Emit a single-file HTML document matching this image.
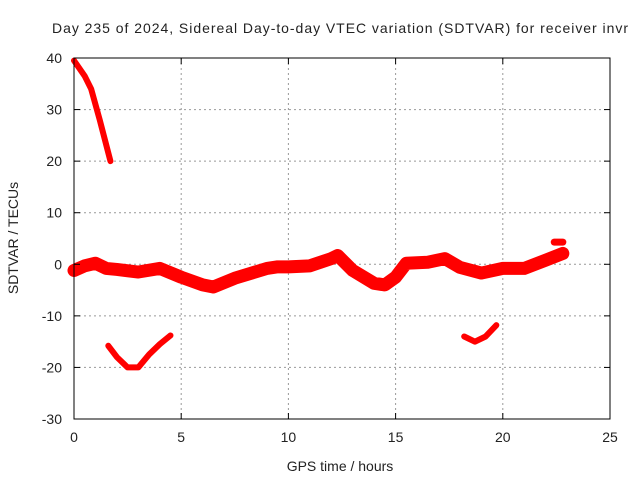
<!DOCTYPE html>
<html><head><meta charset="utf-8"><style>
body{margin:0;background:#fff;}
svg text{font-family:"Liberation Sans",sans-serif;font-size:14px;fill:#222;}
</style></head><body>
<svg id="chart" width="640" height="480" xmlns="http://www.w3.org/2000/svg">
<rect width="640" height="480" fill="#fff"/>
<g id="grid"></g><g id="series"></g><g id="axes"></g>
</svg>
<script>
const xTicks=[0,5,10,15,20,25];
const yTicks=[40,30,20,10,0,-10,-20,-30];
const mainHours=[0,0.5,1,1.5,2,3,4,5,6,6.5,7.5,9,9.5,10,11,12,12.3,13,14,14.5,15,15.5,16.5,17.3,18,19,20,21,22,22.8];
const mainValues=[-1.2,-0.3,0.2,-0.8,-1,-1.5,-0.8,-2.5,-4,-4.4,-2.7,-0.8,-0.5,-0.5,-0.3,1.1,1.7,-1.2,-3.7,-4,-2.5,0.2,0.4,1.1,-0.6,-1.7,-0.8,-0.8,0.8,2.1];
const topHours=[0,0.5,0.8,1.2,1.7];
const topValues=[39.5,36.5,34,28,20];
const dipHours=[1.6,2,2.5,3,3.5,4,4.5];
const dipValues=[-15.8,-18,-20,-20,-17.5,-15.5,-13.8];
const lateHours=[18.2,18.7,19.2,19.7];
const lateValues=[-14,-15,-14,-11.8];
const blobHours=[22.4,22.8];
const blobValues=[4.3,4.3];
const L=74,R=610,T=58,B=419;
const xs=h=>L+(h-0)/25*(R-L);
const ys=v=>T+(40-v)/70*(B-T);
const NS="http://www.w3.org/2000/svg";
function mk(tag,attrs,parent){const e=document.createElementNS(NS,tag);for(const k in attrs)e.setAttribute(k,attrs[k]);parent.appendChild(e);return e;}
const grid=document.getElementById('grid'),axes=document.getElementById('axes'),ser=document.getElementById('series');
xTicks.forEach(t=>{
 if(t>0&&t<25){const g=mk('line',{x1:xs(t),x2:xs(t),y1:T,y2:B,stroke:'#999','stroke-dasharray':'2,3'},grid);
 
 }
 const tx=mk('text',{x:xs(t),y:B+23,'text-anchor':'middle'},axes);tx.textContent=t;
 
 
 mk('line',{x1:xs(t),x2:xs(t),y1:B,y2:B-6,stroke:'#000'},axes);
 mk('line',{x1:xs(t),x2:xs(t),y1:T,y2:T+6,stroke:'#000'},axes);
});
yTicks.forEach(t=>{
 if(t<40&&t>-30){const g=mk('line',{x1:L,x2:R,y1:ys(t),y2:ys(t),stroke:'#999','stroke-dasharray':'2,3'},grid);
 
 }
 const tx=mk('text',{x:L-12,y:ys(t)+5,'text-anchor':'end'},axes);tx.textContent=t;
 
 
 mk('line',{x1:L,x2:L+6,y1:ys(t),y2:ys(t),stroke:'#000'},axes);
 mk('line',{x1:R,x2:R-6,y1:ys(t),y2:ys(t),stroke:'#000'},axes);
});
const fr=mk('rect',{x:L,y:T,width:R-L,height:B-T,fill:'none',stroke:'#000'},axes);


function series(hs,vs,w,name){
 const p=mk('polyline',{points:hs.map((h,i)=>xs(h)+','+ys(vs[i])).join(' '),fill:'none',stroke:'#f00','stroke-width':w,'stroke-linejoin':'round','stroke-linecap':'round'},ser);
 
 
}
series(mainHours,mainValues,13,'main-band-series');
series(topHours,topValues,6,'early-high-series');
series(dipHours,dipValues,6,'early-dip-series');
series(lateHours,lateValues,6,'late-dip-series');
series(blobHours,blobValues,7,'late-blob-series');
const ti=mk('text',{x:340,y:33,'text-anchor':'middle','font-size':'16px',textLength:576},axes);ti.textContent='Day 235 of 2024, Sidereal Day-to-day VTEC variation (SDTVAR) for receiver invr';


const xl=mk('text',{x:340,y:471,'text-anchor':'middle','font-size':'15px'},axes);xl.textContent='GPS time / hours';


const yl=mk('text',{x:0,y:0,'text-anchor':'middle','font-size':'15px',transform:'translate(18,238) rotate(-90)'},axes);yl.textContent='SDTVAR / TECUs';


</script>
</body></html>
